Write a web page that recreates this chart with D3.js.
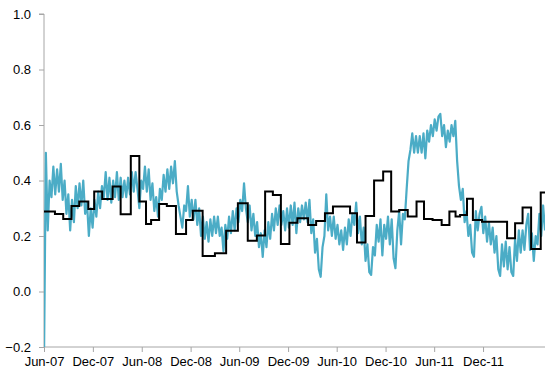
<!DOCTYPE html>
<html><head><meta charset="utf-8">
<script src="https://cdn.jsdelivr.net/npm/d3@7"></script>
<style>
html,body{margin:0;padding:0;background:#fff;}
svg{display:block;}
text{font-family:"Liberation Sans",Arial,sans-serif;font-size:13px;fill:#000;}
</style></head>
<body>
<svg id="chart" width="545" height="381"></svg>
<script>
// ---- data ----
const yTicks = [-0.2, 0.0, 0.2, 0.4, 0.6, 0.8, 1.0];
const xTickLabels = ["Jun-07","Dec-07","Jun-08","Dec-08","Jun-09","Dec-09","Jun-10","Dec-10","Jun-11","Dec-11"];
const xTickDates = ["2007-06-01","2007-12-01","2008-06-01","2008-12-01","2009-06-01","2009-12-01","2010-06-01","2010-12-01","2011-06-01","2011-12-01"];
const domainStart = "2007-06-01";
const domainEnd = "2012-07-20";

// teal series: weekly observations starting 2007-06-01
const tealStart = "2007-06-01";
const tealStepDays = 7;
const tealValues = [
-0.25,0.50,0.22,0.40,0.34,0.45,0.35,0.44,0.36,0.46,
0.33,0.40,0.28,0.35,0.22,0.33,0.25,0.38,0.30,0.39,
0.31,0.40,0.28,0.32,0.20,0.30,0.23,0.33,0.27,0.36,
0.30,0.38,0.34,0.43,0.33,0.41,0.32,0.40,0.34,0.43,
0.33,0.41,0.34,0.40,0.34,0.41,0.35,0.43,0.36,0.43,
0.37,0.30,0.40,0.37,0.45,0.36,0.44,0.33,0.39,0.29,
0.34,0.27,0.37,0.33,0.42,0.36,0.44,0.37,0.45,0.39,
0.47,0.36,0.31,0.27,0.23,0.31,0.29,0.38,0.27,0.33,
0.26,0.33,0.24,0.30,0.20,0.27,0.19,0.25,0.18,0.26,
0.20,0.27,0.21,0.27,0.20,0.23,0.145,0.24,0.19,0.27,
0.21,0.29,0.22,0.30,0.25,0.33,0.29,0.39,0.30,0.25,
0.31,0.22,0.28,0.20,0.25,0.16,0.21,0.125,0.22,0.16,
0.25,0.19,0.28,0.22,0.30,0.24,0.31,0.24,0.29,0.22,
0.30,0.23,0.31,0.24,0.32,0.21,0.30,0.25,0.31,0.26,
0.32,0.25,0.33,0.21,0.26,0.14,0.19,0.08,0.053,0.16,
0.20,0.35,0.22,0.27,0.20,0.27,0.19,0.24,0.17,0.22,
0.15,0.23,0.17,0.26,0.20,0.28,0.24,0.32,0.21,0.27,
0.17,0.23,0.11,0.17,0.07,0.06,0.16,0.13,0.24,0.18,
0.26,0.13,0.24,0.19,0.27,0.17,0.26,0.12,0.084,0.22,
0.29,0.17,0.28,0.26,0.37,0.47,0.51,0.57,0.50,0.56,
0.50,0.56,0.50,0.57,0.48,0.58,0.54,0.60,0.56,0.62,
0.58,0.63,0.64,0.56,0.60,0.52,0.58,0.54,0.60,0.56,
0.615,0.47,0.38,0.33,0.37,0.25,0.29,0.20,0.24,0.14,
0.125,0.29,0.22,0.28,0.305,0.21,0.27,0.18,0.25,0.17,
0.23,0.14,0.20,0.08,0.056,0.17,0.09,0.18,0.08,0.16,
0.07,0.056,0.19,0.11,0.22,0.14,0.22,0.15,0.24,0.28,
0.15,0.21,0.11,0.20,0.17,0.28,0.20,0.31,0.22
];

// black step series: start dates of each step and values
const stepDates = [
"2007-06-01","2007-07-12","2007-08-12","2007-09-12","2007-10-11","2007-11-14","2007-12-06","2008-01-05",
"2008-02-13","2008-03-14","2008-04-21","2008-05-23","2008-06-17","2008-07-06","2008-08-05","2008-09-03",
"2008-10-07","2008-11-14","2008-12-09","2009-01-15","2009-03-02","2009-04-13","2009-05-27","2009-07-03",
"2009-08-06","2009-09-06","2009-10-05","2009-11-04","2009-12-06","2010-01-05","2010-02-14","2010-03-16",
"2010-04-18","2010-05-18","2010-07-21","2010-08-16","2010-09-17","2010-10-19","2010-11-22","2010-12-22",
"2011-01-21","2011-02-22","2011-03-27","2011-04-24","2011-05-26","2011-06-29","2011-07-28","2011-08-20",
"2011-09-06","2011-10-02","2011-10-24","2011-11-27","2012-02-29","2012-03-30","2012-04-27","2012-05-29",
"2012-07-04"
];
const stepValues = [
0.288,0.279,0.261,0.308,0.324,0.297,0.360,0.333,
0.378,0.278,0.488,0.324,0.243,0.258,0.315,0.308,
0.207,0.258,0.291,0.128,0.138,0.219,0.318,0.183,
0.202,0.360,0.348,0.171,0.248,0.264,0.240,0.254,
0.282,0.306,0.282,0.177,0.272,0.400,0.432,0.288,
0.294,0.270,0.324,0.261,0.258,0.240,0.288,0.270,
0.276,0.334,0.258,0.251,0.192,0.246,0.303,0.153,
0.357
];

// ---- chart ----
const parse = d3.utcParse("%Y-%m-%d");
const svg = d3.select("#chart");
const mLeft = 44, mRight = 545, mTop = 14, mBottom = 347;

const x = d3.scaleUtc().domain([parse(domainStart), parse(domainEnd)]).range([mLeft, mRight]);
const y = d3.scaleLinear().domain([-0.2, 1.0]).range([mBottom, mTop]);

svg.append("defs").append("clipPath").attr("id","plot")
  .append("rect").attr("x", mLeft).attr("y", mTop).attr("width", mRight-mLeft).attr("height", mBottom-mTop);

const t0 = parse(tealStart);
const tealData = tealValues.map((v,i) => ({d: d3.utcDay.offset(t0, i*tealStepDays), v}));

const stepData = stepDates.map((s,i) => ({d: parse(s), v: stepValues[i]}));
stepData.push({d: parse(domainEnd), v: stepValues[stepValues.length-1]});

// axes
const yAxis = d3.axisLeft(y).tickValues(yTicks).tickFormat(d3.format(".1f")).tickSize(5).tickPadding(8);
const gy = svg.append("g").attr("transform", `translate(${mLeft},0)`).call(yAxis);
gy.selectAll("path,line").attr("stroke", "#a6a6a6");
gy.select(".domain").attr("d", `M-5,${mTop}H0V${mBottom}`);
gy.selectAll("text").style("font-family","Liberation Sans, Arial, sans-serif").style("font-size","13px").attr("fill","#000");

const xAxis = d3.axisBottom(x).tickValues(xTickDates.map(parse))
  .tickFormat((d,i) => xTickLabels[i]).tickSize(5).tickPadding(5);
const gx = svg.append("g").attr("transform", `translate(0,${mBottom})`).call(xAxis);
gx.selectAll("path,line").attr("stroke", "#a6a6a6");
gx.select(".domain").attr("d", `M${mLeft},0H${mRight}`);
gx.selectAll("text").style("font-family","Liberation Sans, Arial, sans-serif").style("font-size","13px").attr("fill","#000");

// lines
const plot = svg.append("g").attr("clip-path","url(#plot)");
plot.append("path").datum(tealData)
  .attr("fill","none").attr("stroke","#4bacc6").attr("stroke-width",2.2).attr("stroke-linejoin","round")
  .attr("d", d3.line().x(d => x(d.d)).y(d => y(d.v)));

plot.append("path").datum(stepData)
  .attr("fill","none").attr("stroke","#000").attr("stroke-width",2)
  .attr("d", d3.line().curve(d3.curveStepAfter).x(d => x(d.d)).y(d => y(d.v)));
</script>
</body></html>
